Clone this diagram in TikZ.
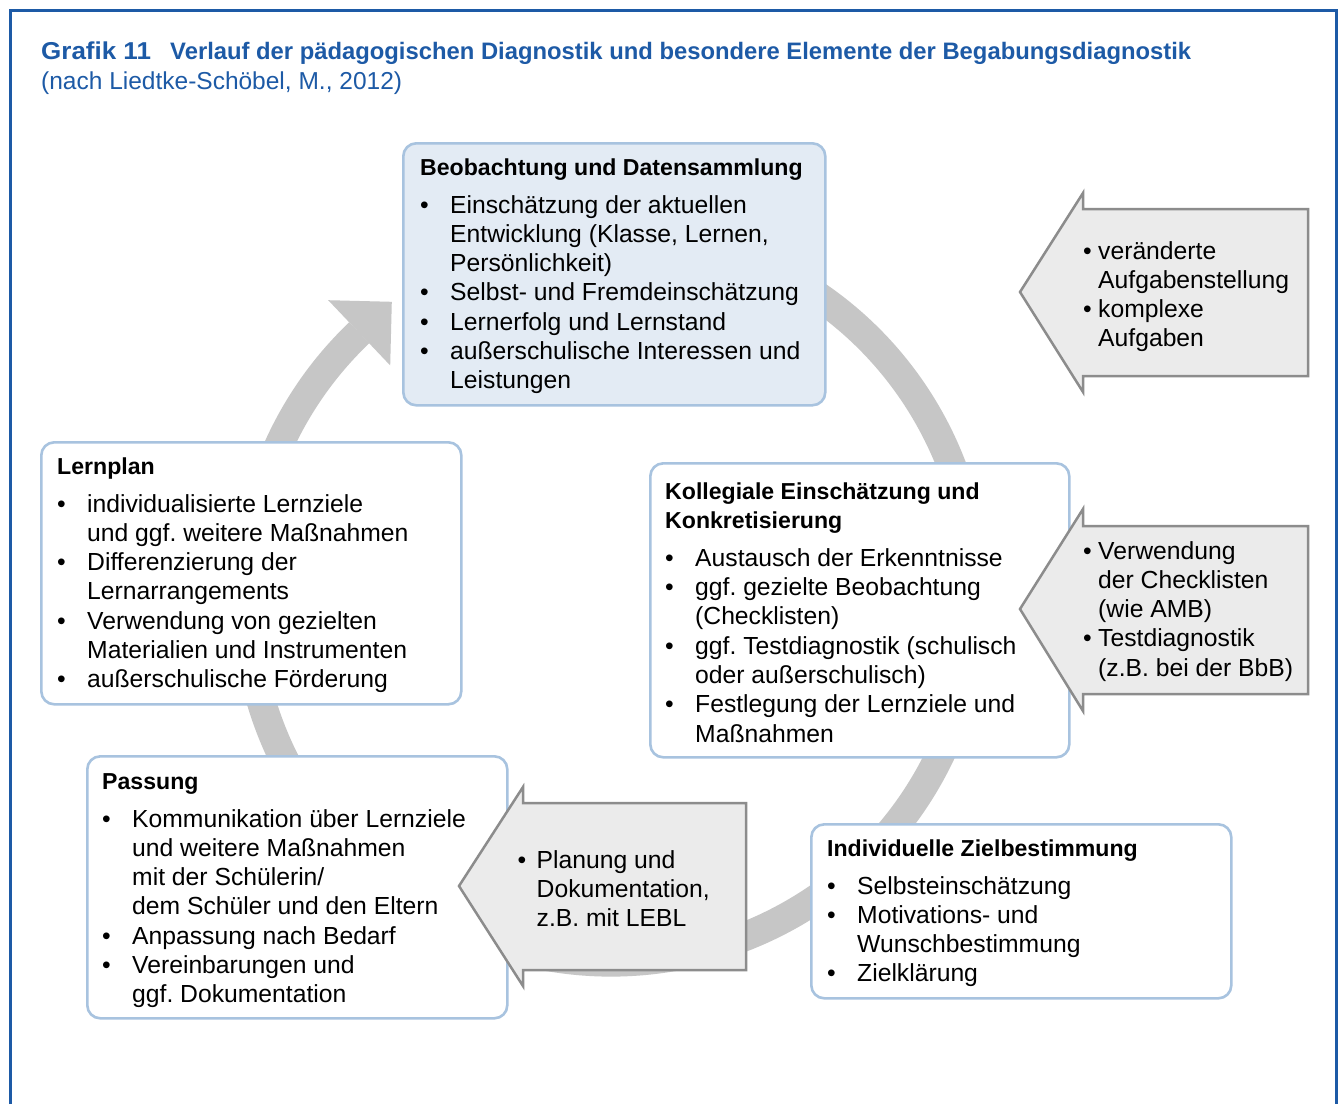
\documentclass[tikz,border=0pt]{standalone}
\usepackage{fontspec}
\setmainfont{Liberation Sans}
\definecolor{frameblue}{HTML}{1D5AA6}
\definecolor{boxblue}{HTML}{A8C3DF}
\definecolor{boxfill}{HTML}{E3EBF4}
\definecolor{ringgray}{HTML}{C6C6C6}
\definecolor{callfill}{HTML}{EBEBEB}
\definecolor{callline}{HTML}{8C8C8C}
\newcommand{\hdtext}[1]{{\bfseries\fontsize{23.1}{29.3}\selectfont #1}}
\newcommand{\bulA}{\makebox[30pt][l]{•}}
\newcommand{\indA}{\makebox[30pt]{}}
\newcommand{\bulB}{\makebox[15pt][l]{•}}
\newcommand{\indB}{\makebox[15pt]{}}
\newcommand{\bulC}{\makebox[19pt][l]{•}}
\newcommand{\indC}{\makebox[19pt]{}}
\frenchspacing
\begin{document}
\begin{tikzpicture}[x=1pt,y=-1pt,
  frameline/.style={draw=frameblue,line width=3pt},
  roundbox/.style={draw=boxblue,line width=2.6pt,rounded corners=13pt,rectangle,inner sep=0pt,anchor=north west},
  ringline/.style={draw=ringgray,line width=29pt},
  callout/.style={draw=callline,fill=callfill,line width=2.5pt,line join=miter},
  txt/.style={anchor=north west,inner sep=0pt,align=left,font=\frenchspacing\fontsize{24.7}{29.3}\selectfont},
  ttl/.style={anchor=base west,inner sep=0pt,text=frameblue}]
\useasboundingbox (0,0) rectangle (1341,1104);
\fill[white] (0,0) rectangle (1341,1104);
% frame
\draw[frameline] (10,1104) -- (10,10) -- (1336,10) -- (1336,1104);
% title
\node[ttl,font=\bfseries\fontsize{24.4}{28}\selectfont] (gr) at (41,59) {\scalebox{1.065}[1]{Grafik 11}};
\node[ttl,font=\bfseries\fontsize{23.8}{28}\selectfont] (tt) at (170,59) {Verlauf der pädagogischen Diagnostik und besondere Elemente der Begabungsdiagnostik};
\node[ttl,font=\fontsize{24.5}{28}\selectfont] (st) at (41,89) {(nach Liedtke-Schöbel, M., 2012)};
% ring
\draw[ringline] (611,597) ++(-70:365) arc[start angle=-70,end angle=226.4,radius=365];
\fill[ringgray] (391.8,301.8) -- (328.2,300.2) -- (390.2,365.4) -- cycle;
% boxes
\node[roundbox,fill=boxfill,minimum width=422pt,minimum height=262pt] (b1) at (402,142) {};
\node[roundbox,fill=white,minimum width=420pt,minimum height=262pt] (b2) at (40,441) {};
\node[roundbox,fill=white,minimum width=419pt,minimum height=294pt] (b3) at (649,462) {};
\node[roundbox,fill=white,minimum width=420pt,minimum height=262pt] (b4) at (86,755) {};
\node[roundbox,fill=white,minimum width=420pt,minimum height=174pt] (b5) at (810,823) {};
% callouts
\draw[callout] (1083,193) -- (1083,209) -- (1308,209) -- (1308,376) -- (1083,376) -- (1083,392) -- (1020,292) -- cycle;
\draw[callout] (1083,509) -- (1083,526) -- (1308,526) -- (1308,694) -- (1083,694) -- (1083,711) -- (1020,609) -- cycle;
\draw[callout] (523,787) -- (523,803) -- (746,803) -- (746,970) -- (523,970) -- (523,986) -- (459,886) -- cycle;
% texts
\node[txt] (t1) at (420,154.8) {\strut\hdtext{Beobachtung und Datensammlung}\\[8.2pt]
\bulA Einschätzung der aktuellen\\
\indA Entwicklung (Klasse, Lernen,\\
\indA Persönlichkeit)\\
\bulA Selbst- und Fremdeinschätzung\\
\bulA Lernerfolg und Lernstand\\
\bulA außerschulische Interessen und\\
\indA Leistungen};
\node[txt] (t2) at (57,453.8) {\strut\hdtext{Lernplan}\\[8.2pt]
\bulA individualisierte Lernziele\\
\indA und ggf. weitere Maßnahmen\\
\bulA Differenzierung der\\
\indA Lernarrangements\\
\bulA Verwendung von gezielten\\
\indA Materialien und Instrumenten\\
\bulA außerschulische Förderung};
\node[txt] (t3) at (665,478.8) {\strut\hdtext{Kollegiale Einschätzung und}\\
\hdtext{Konkretisierung}\\[8.2pt]
\bulA Austausch der Erkenntnisse\\
\bulA ggf. gezielte Beobachtung\\
\indA (Checklisten)\\
\bulA ggf. Testdiagnostik (schulisch\\
\indA oder außerschulisch)\\
\bulA Festlegung der Lernziele und\\
\indA Maßnahmen};
\node[txt] (t4) at (102,768.8) {\strut\hdtext{Passung}\\[8.2pt]
\bulA Kommunikation über Lernziele\\
\indA und weitere Maßnahmen\\
\indA mit der Schülerin/\\
\indA dem Schüler und den Eltern\\
\bulA Anpassung nach Bedarf\\
\bulA Vereinbarungen und\\
\indA ggf. Dokumentation};
\node[txt] (t5) at (827,835.8) {\strut\hdtext{Individuelle Zielbestimmung}\\[8.2pt]
\bulA Selbsteinschätzung\\
\bulA Motivations- und\\
\indA Wunschbestimmung\\
\bulA Zielklärung};
\node[txt] (c1) at (1083,238.3) {\strut\bulB veränderte\\
\indB Aufgabenstellung\\
\bulB komplexe\\
\indB Aufgaben};
\node[txt] (c2) at (1083,538.3) {\strut\bulB Verwendung\\
\indB der Checklisten\\
\indB (wie AMB)\\
\bulB Testdiagnostik\\
\indB (z.B. bei der BbB)};
\node[txt] (c3) at (517.5,847.3) {\strut\bulC Planung und\\
\indC Dokumentation,\\
\indC z.B. mit LEBL};
\end{tikzpicture}
\end{document}
